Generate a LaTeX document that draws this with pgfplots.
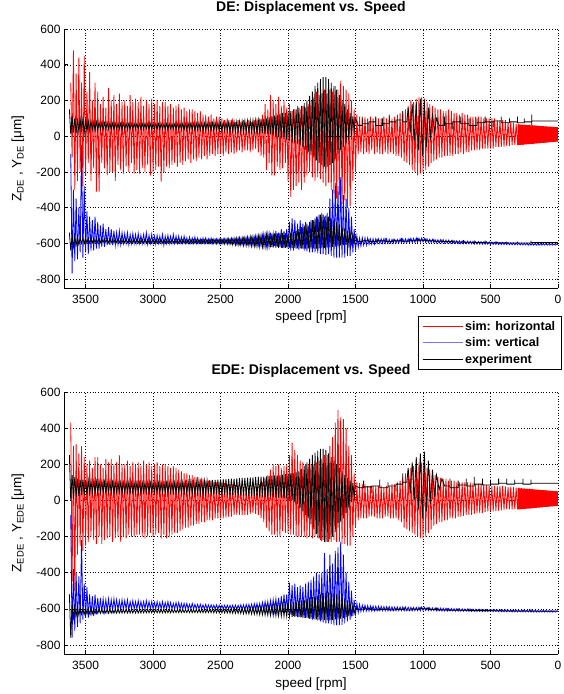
\documentclass[border=0pt]{standalone}
\usepackage{fontspec}
\setmainfont{Liberation Sans}
\usepackage{pgfplots}
\pgfplotsset{compat=1.18}

\pgfplotsset{
  mlab/.style={
    scale only axis, width=494pt,
    x dir=reverse, xmin=0, xmax=3660, ymin=-850, ymax=600,
    xtick={0,500,...,3500}, ytick={-800,-600,...,600},
    grid=major, major grid style={black, line width=0.4pt, dash pattern=on 0.6pt off 2.2pt},
    axis x line*=bottom, axis y line*=left,
    axis line style={line width=0.5pt, -},
    tick align=inside, major tick length=4pt, tick style={black, line width=0.5pt},
    tick label style={font=\fontsize{12}{14}\selectfont},
    /pgf/number format/assume math mode=true,
    /pgf/number format/1000 sep={},
    xticklabel style={yshift=-4pt},
    label style={font=\fontsize{13.5}{16}\selectfont},
    xlabel={speed [rpm]},
    xlabel style={at={(0.5,0)}, anchor=base, yshift=-33pt},
    ylabel style={at={(0,0.5)}, anchor=center, yshift=46pt},
    title style={at={(0.5,1)}, anchor=base, yshift=11pt, font=\bfseries\fontsize{14}{16}\selectfont},
    every axis plot/.append style={line width=0.8pt},
  }
}

\begin{document}
\begin{tikzpicture}[x=1pt,y=1pt]
\path[use as bounding box] (0,0) rectangle (564,694);

% ---------------- DE ----------------
\begin{axis}[mlab, at={(64pt,406pt)}, anchor=south west, height=259pt,
  title={DE: Displacement vs. Speed},
  ylabel={Z\textsubscript{DE} , Y\textsubscript{DE} [μm]},
  legend style={at={(0.716,-0.107)}, anchor=north west, draw=black, line width=0.5pt,
    font=\bfseries\fontsize{12.5}{15}\selectfont, inner xsep=4pt, inner ysep=3pt, row sep=2pt},
  legend cell align=left,
  legend image code/.code={\draw[#1] (0pt,0pt) -- (40pt,0pt);},
]
\addlegendimage{red, line width=0.6pt}
\addlegendimage{blue!55, line width=1.2pt}
\addlegendimage{black, line width=0.6pt}
\legend{sim: horizontal, sim: vertical, experiment}

% sim: horizontal
\addplot[red] coordinates {
(3610,300)(3600,-120)(3590,480)(3580,-300)(3570,350)(3560,-250)(3550,440)(3540,-200)(3530,300)(3520,-280)
(3510,450)(3500,-220)(3490,250)(3480,-150)(3470,360)(3460,-250)(3450,200)(3440,-180)(3430,300)(3420,-310)
(3410,250)(3400,-310)(3390,180)(3380,-150)(3370,220)(3360,-180)(3350,160)(3340,-220)(3330,270)(3320,-200)
(3310,200)(3300,-200)(3290,230)(3280,-250)(3270,180)(3260,-160)(3250,240)(3240,-190)(3230,190)(3220,-210)
(3210,200)(3200,-170)(3190,170)(3180,-200)(3170,230)(3160,-150)(3150,190)(3140,-210)(3130,210)(3120,-190)
(3110,190)(3100,-210)(3090,220)(3080,-180)(3070,170)(3060,-200)(3050,200)(3040,-160)(3030,180)(3020,-220)
(3010,210)(3000,-200)(2990,180)(2980,-190)(2970,200)(2960,-170)(2950,170)(2940,-255)(2930,190)(2920,-200)
(2910,190)(2900,-170)(2890,170)(2880,-180)(2870,180)(2860,-160)(2850,160)(2840,-150)(2830,170)(2820,-170)
(2810,180)(2800,-150)(2790,150)(2780,-160)(2770,160)(2760,-140)(2750,140)(2740,-130)(2730,150)(2720,-150)
(2710,150)(2700,-130)(2690,140)(2680,-140)(2670,130)(2660,-120)(2650,140)(2640,-130)(2630,120)(2620,-110)
(2610,120)(2600,-130)(2590,110)(2580,-110)(2570,120)(2560,-100)(2550,100)(2540,-110)(2530,110)(2520,-100)
(2510,110)(2500,-100)(2490,100)(2480,-110)(2470,90)(2460,-90)(2450,100)(2440,-100)(2430,90)(2420,-90)
(2410,100)(2400,-100)(2390,80)(2380,-90)(2370,90)(2360,-80)(2350,80)(2340,-90)(2330,90)(2320,-80)
(2310,80)(2300,-80)(2290,90)(2280,-90)(2270,80)(2260,-80)(2250,90)(2240,-70)(2230,100)(2220,-90)
(2210,100)(2200,-110)(2190,120)(2180,-120)(2170,180)(2160,-190)(2150,150)(2140,-150)(2130,230)(2120,-220)
(2110,200)(2100,-220)(2090,180)(2080,-170)(2070,220)(2060,-190)(2050,170)(2040,-180)(2030,200)(2020,-150)
(2010,160)(2000,-250)(1990,180)(1980,-340)(1970,140)(1960,-300)(1950,150)(1940,-280)(1930,170)(1920,-260)
(1910,150)(1900,-300)(1890,170)(1880,-260)(1870,160)(1860,-220)(1850,180)(1840,-200)(1830,200)(1820,-230)
(1810,220)(1800,-250)(1790,250)(1780,-230)(1770,230)(1760,-240)(1750,240)(1740,-260)(1730,260)(1720,-280)
(1710,240)(1700,-260)(1690,260)(1680,-300)(1670,250)(1660,-320)(1650,280)(1640,-350)(1630,260)(1620,-330)
(1610,310)(1600,-380)(1590,280)(1580,-360)(1570,260)(1560,-400)(1550,240)(1540,-390)(1530,200)(1520,-250)
(1510,150)(1500,-200)(1490,120)(1480,-100)(1470,110)(1460,-90)(1450,100)(1440,-100)(1430,110)(1420,-90)
(1410,100)(1400,-100)(1390,110)(1380,-80)(1370,100)(1360,-100)(1350,110)(1340,-90)(1330,100)(1320,-100)
(1310,100)(1300,-100)(1290,110)(1280,-90)(1270,100)(1260,-100)(1250,110)(1240,-90)(1230,100)(1220,-100)
(1210,110)(1200,-110)(1190,120)(1180,-110)(1170,130)(1160,-120)(1150,140)(1140,-140)(1130,150)(1120,-150)
(1110,170)(1100,-160)(1090,200)(1080,-190)(1070,190)(1060,-200)(1050,210)(1040,-220)(1030,220)(1020,-210)
(1010,220)(1000,-200)(990,210)(980,-190)(970,190)(960,-170)(950,180)(940,-150)(930,170)(920,-140)
(910,160)(900,-130)(890,150)(880,-120)(870,150)(860,-120)(850,140)(840,-110)(830,140)(820,-110)
(810,150)(800,-110)(790,140)(780,-110)(770,130)(760,-100)(750,130)(740,-100)(730,120)(720,-90)
(710,130)(700,-100)(690,120)(680,-90)(670,120)(660,-90)(650,110)(640,-80)(630,110)(620,-80)
(610,110)(600,-80)(590,110)(580,-80)(570,110)(560,-70)(550,100)(540,-70)(530,100)(520,-70)
(510,100)(500,-70)(490,100)(480,-70)(470,100)(460,-60)(450,90)(440,-60)(430,90)(420,-60)
(410,90)(400,-60)(390,90)(380,-55)(370,80)(360,-55)(350,80)(340,-50)(330,75)(320,-50)
(310,70)(300,-50)(290,70)(280,-50)(270,65)(260,-50)(250,65)(240,-45)(230,60)(220,-45)
(210,65)(200,-45)(190,60)(180,-45)(170,60)(160,-40)(150,58)(140,-40)(130,55)(120,-38)
(110,55)(100,-35)(90,55)(80,-35)(70,52)(60,-33)(50,52)(40,-33)(30,50)(20,-32)
(10,50)(0,-30)};
\addplot[red, fill=red, draw=none] coordinates {(300,66)(0,50)(0,-30)(300,-50)(300,66)};

% sim: vertical
\addplot[blue] coordinates {
(3610,-100)(3600,-770)(3590,-300)(3580,-700)(3570,-350)(3560,-690)(3550,-400)(3540,-650)(3530,-50)(3520,-680)
(3510,-280)(3500,-650)(3490,-420)(3480,-660)(3470,-450)(3460,-640)(3450,-470)(3440,-640)(3430,-450)(3420,-630)
(3410,-480)(3400,-630)(3390,-500)(3380,-620)(3370,-490)(3360,-620)(3350,-520)(3340,-610)(3330,-510)(3320,-610)
(3310,-520)(3300,-610)(3290,-530)(3280,-610)(3270,-540)(3260,-605)(3250,-530)(3240,-605)(3230,-540)(3220,-600)
(3210,-545)(3200,-600)(3190,-540)(3180,-605)(3170,-550)(3160,-600)(3150,-545)(3140,-600)(3130,-550)(3120,-600)
(3110,-545)(3100,-600)(3090,-555)(3080,-600)(3070,-550)(3060,-600)(3050,-540)(3040,-605)(3030,-555)(3020,-600)
(3010,-550)(3000,-600)(2990,-560)(2980,-605)(2970,-555)(2960,-600)(2950,-560)(2940,-600)(2930,-550)(2920,-610)
(2910,-560)(2900,-600)(2890,-555)(2880,-600)(2870,-560)(2860,-600)(2850,-550)(2840,-600)(2830,-560)(2820,-600)
(2810,-560)(2800,-600)(2790,-565)(2780,-600)(2770,-560)(2760,-600)(2750,-570)(2740,-600)(2730,-565)(2720,-600)
(2710,-570)(2700,-600)(2690,-565)(2680,-600)(2670,-570)(2660,-600)(2650,-575)(2640,-600)(2630,-570)(2620,-600)
(2610,-570)(2600,-600)(2590,-575)(2580,-600)(2570,-570)(2560,-600)(2550,-575)(2540,-600)(2530,-575)(2520,-600)
(2510,-575)(2500,-600)(2490,-575)(2480,-600)(2470,-575)(2460,-600)(2450,-575)(2440,-600)(2430,-575)(2420,-600)
(2410,-575)(2400,-600)(2390,-575)(2380,-605)(2370,-570)(2360,-605)(2350,-575)(2340,-605)(2330,-570)(2320,-605)
(2310,-570)(2300,-605)(2290,-570)(2280,-605)(2270,-565)(2260,-610)(2250,-565)(2240,-610)(2230,-560)(2220,-610)
(2210,-560)(2200,-610)(2190,-555)(2180,-615)(2170,-550)(2160,-615)(2150,-545)(2140,-615)(2130,-540)(2120,-620)
(2110,-545)(2100,-615)(2090,-530)(2080,-620)(2070,-540)(2060,-620)(2050,-520)(2040,-625)(2030,-530)(2020,-625)
(2010,-520)(2000,-630)(1990,-480)(1980,-640)(1970,-460)(1960,-640)(1950,-470)(1940,-630)(1930,-490)(1920,-635)
(1910,-470)(1900,-630)(1890,-490)(1880,-640)(1870,-480)(1860,-645)(1850,-500)(1840,-650)(1830,-470)(1820,-650)
(1810,-470)(1800,-650)(1790,-450)(1780,-655)(1770,-440)(1760,-660)(1750,-430)(1740,-660)(1730,-450)(1720,-665)
(1710,-430)(1700,-660)(1690,-350)(1680,-670)(1670,-300)(1660,-680)(1650,-260)(1640,-680)(1630,-280)(1620,-680)
(1610,-230)(1600,-680)(1590,-330)(1580,-680)(1570,-350)(1560,-670)(1550,-400)(1540,-670)(1530,-450)(1520,-650)
(1510,-520)(1500,-640)(1490,-560)(1480,-620)(1470,-570)(1460,-615)(1450,-570)(1440,-610)(1430,-570)(1420,-610)
(1410,-570)(1400,-605)(1390,-575)(1380,-605)(1370,-575)(1360,-605)(1350,-575)(1340,-600)(1330,-575)(1320,-600)
(1310,-575)(1300,-600)(1290,-575)(1280,-600)(1270,-575)(1260,-600)(1250,-578)(1240,-600)(1230,-578)(1220,-598)
(1210,-578)(1200,-598)(1190,-578)(1180,-598)(1170,-575)(1160,-598)(1150,-575)(1140,-596)(1130,-575)(1120,-596)
(1110,-575)(1100,-595)(1090,-572)(1080,-595)(1070,-572)(1060,-594)(1050,-570)(1040,-594)(1030,-572)(1020,-592)
(1010,-570)(1000,-592)(990,-573)(980,-594)(970,-575)(960,-595)(950,-577)(940,-595)(930,-578)(920,-596)
(910,-580)(900,-597)(890,-580)(880,-598)(870,-580)(860,-598)(850,-581)(840,-599)(830,-582)(820,-599)
(810,-582)(800,-600)(790,-584)(780,-600)(770,-585)(760,-600)(750,-586)(740,-601)(730,-586)(720,-602)
(710,-587)(700,-602)(690,-588)(680,-602)(670,-588)(660,-603)(650,-589)(640,-603)(630,-590)(620,-604)
(610,-590)(600,-604)(590,-590)(580,-604)(570,-591)(560,-605)(550,-592)(540,-605)(530,-592)(520,-605)
(510,-592)(500,-606)(490,-593)(480,-606)(470,-594)(460,-606)(450,-594)(440,-607)(430,-595)(420,-607)
(410,-595)(400,-607)(390,-596)(380,-607)(370,-596)(360,-608)(350,-597)(340,-608)(330,-597)(320,-608)
(310,-598)(300,-608)(290,-598)(280,-609)(270,-599)(260,-609)(250,-599)(240,-609)(230,-600)(220,-610)
(210,-600)(200,-610)(190,-600)(180,-610)(170,-601)(160,-610)(150,-601)(140,-610)(130,-602)(120,-610)
(110,-602)(100,-610)(90,-602)(80,-610)(70,-603)(60,-610)(50,-603)(40,-610)(30,-604)(20,-610)
(10,-604)(0,-606)};

% experiment, horizontal
\addplot[black] coordinates {
(3620,150)(3610,10)(3600,110)(3590,20)(3580,100)(3570,20)(3560,100)(3550,25)(3540,95)(3530,30)
(3520,95)(3510,20)(3500,90)(3490,30)(3480,85)(3470,30)(3460,85)(3450,35)(3440,80)(3430,35)
(3420,80)(3410,35)(3400,78)(3390,38)(3380,76)(3370,38)(3360,75)(3350,40)(3340,75)(3330,40)
(3320,74)(3310,40)(3300,73)(3290,40)(3280,72)(3270,40)(3260,72)(3250,40)(3240,72)(3230,40)
(3220,72)(3210,40)(3200,71)(3190,40)(3180,71)(3170,41)(3160,70)(3150,41)(3140,70)(3130,42)
(3120,70)(3110,42)(3100,70)(3090,42)(3080,70)(3070,42)(3060,70)(3050,42)(3040,70)(3030,42)
(3020,70)(3010,40)(3000,70)(2990,40)(2980,70)(2970,40)(2960,70)(2950,40)(2940,70)(2930,40)
(2920,70)(2910,40)(2900,70)(2890,40)(2880,70)(2870,41)(2860,69)(2850,42)(2840,68)(2830,42)
(2820,70)(2810,40)(2800,70)(2790,40)(2780,71)(2770,39)(2760,71)(2750,38)(2740,72)(2730,38)
(2720,72)(2710,38)(2700,72)(2690,37)(2680,73)(2670,37)(2660,73)(2650,36)(2640,74)(2630,36)
(2620,74)(2610,36)(2600,75)(2590,35)(2580,75)(2570,35)(2560,76)(2550,34)(2540,76)(2530,34)
(2520,76)(2510,34)(2500,77)(2490,33)(2480,77)(2470,32)(2460,78)(2450,31)(2440,78)(2430,30)
(2420,80)(2410,30)(2400,81)(2390,29)(2380,82)(2370,28)(2360,83)(2350,27)(2340,84)(2330,26)
(2320,86)(2310,26)(2300,87)(2290,25)(2280,88)(2270,24)(2260,89)(2250,23)(2240,90)(2230,22)
(2220,90)(2210,20)(2200,95)(2190,18)(2180,98)(2170,15)(2160,100)(2150,12)(2140,105)(2130,10)
(2120,110)(2110,5)(2100,115)(2090,0)(2080,120)(2070,-5)(2060,125)(2050,-10)(2040,130)(2030,-15)
(2020,130)(2010,-20)(2000,135)(1990,-25)(1980,140)(1970,-30)(1960,150)(1950,-35)(1940,150)(1930,-40)
(1920,160)(1910,-50)(1900,170)(1890,-60)(1880,185)(1870,-75)(1860,200)(1850,-90)(1840,225)(1830,-105)
(1820,250)(1810,-120)(1800,280)(1790,-135)(1780,300)(1770,-150)(1760,320)(1750,-160)(1740,330)(1730,-170)
(1720,330)(1710,-170)(1700,320)(1690,-160)(1680,300)(1670,-150)(1660,280)(1650,-130)(1640,260)(1630,-100)
(1620,230)(1610,-80)(1600,200)(1590,-60)(1580,180)(1570,-40)(1560,150)(1550,-20)(1540,130)(1530,0)
(1520,110)(1510,30)(1500,100)
(1480,60)(1450,60)(1450,110)(1450,70)(1400,70)(1400,30)(1400,80)(1350,80)(1350,110)(1350,60)
(1300,60)(1300,100)(1300,70)(1250,70)(1250,120)(1250,80)(1200,80)(1200,40)(1200,90)(1150,90)
(1150,140)(1150,80)(1120,80)(1110,160)(1095,20)(1080,180)(1065,-30)(1050,190)(1035,-80)(1020,210)
(1005,-110)(990,200)(975,-60)(960,160)(945,-20)(930,130)(915,20)(900,100)(880,60)(840,60)
(840,110)(840,70)(780,70)(780,40)(780,80)(720,80)(720,110)(720,70)(660,70)(660,100)
(660,60)(600,60)(600,100)(600,75)(540,75)(540,110)(540,80)(480,80)(480,50)(480,85)
(420,85)(420,110)(420,75)(360,75)(360,100)(360,80)(300,80)(300,110)(300,75)(250,75)
(250,100)(250,80)(195,80)(195,120)(195,60)(195,85)(0,85)};

% experiment, vertical
\addplot[black] coordinates {
(3620,-540)(3610,-640)(3600,-560)(3590,-620)(3580,-565)(3570,-610)(3560,-568)(3550,-605)(3540,-570)(3530,-600)
(3520,-570)(3510,-600)(3500,-572)(3490,-598)(3480,-572)(3470,-598)(3460,-573)(3450,-597)(3440,-574)(3430,-596)
(3420,-574)(3410,-596)(3400,-575)(3390,-596)(3380,-575)(3370,-595)(3360,-575)(3350,-595)(3340,-576)(3330,-596)
(3320,-576)(3310,-596)(3300,-576)(3290,-596)(3280,-576)(3270,-596)(3260,-577)(3250,-596)(3240,-577)(3230,-597)
(3220,-577)(3210,-597)(3200,-577)(3190,-597)(3180,-578)(3170,-597)(3160,-578)(3150,-597)(3140,-578)(3130,-598)
(3120,-578)(3110,-598)(3100,-578)(3090,-598)(3080,-578)(3070,-598)(3060,-578)(3050,-598)(3040,-579)(3030,-598)
(3020,-579)(3010,-598)(3000,-579)(2990,-598)(2980,-579)(2970,-598)(2960,-579)(2950,-598)(2940,-580)(2930,-598)
(2920,-580)(2910,-598)(2900,-580)(2890,-598)(2880,-580)(2870,-598)(2860,-580)(2850,-598)(2840,-580)(2830,-599)
(2820,-580)(2810,-599)(2800,-580)(2790,-599)(2780,-580)(2770,-599)(2760,-580)(2750,-600)(2740,-580)(2730,-600)
(2720,-580)(2710,-600)(2700,-580)(2690,-600)(2680,-580)(2670,-600)(2660,-580)(2650,-600)(2640,-580)(2630,-600)
(2620,-580)(2610,-600)(2600,-580)(2590,-600)(2580,-579)(2570,-601)(2560,-579)(2550,-601)(2540,-578)(2530,-602)
(2520,-578)(2510,-602)(2500,-577)(2490,-603)(2480,-576)(2470,-604)(2460,-575)(2450,-605)(2440,-574)(2430,-606)
(2420,-572)(2410,-608)(2400,-571)(2390,-609)(2380,-570)(2370,-610)(2360,-569)(2350,-611)(2340,-568)(2330,-612)
(2320,-566)(2310,-613)(2300,-565)(2290,-614)(2280,-563)(2270,-615)(2260,-562)(2250,-616)(2240,-560)(2230,-618)
(2220,-558)(2210,-619)(2200,-555)(2190,-620)(2180,-552)(2170,-621)(2160,-550)(2150,-622)(2140,-548)(2130,-623)
(2120,-546)(2110,-624)(2100,-545)(2090,-624)(2080,-544)(2070,-625)(2060,-543)(2050,-625)(2040,-542)(2030,-626)
(2020,-545)(2010,-622)(2000,-545)(1990,-624)(1980,-540)(1970,-625)(1960,-535)(1950,-626)(1940,-530)(1930,-628)
(1920,-520)(1910,-628)(1900,-510)(1890,-630)(1880,-500)(1870,-630)(1860,-490)(1850,-630)(1840,-480)(1830,-630)
(1820,-470)(1810,-630)(1800,-460)(1790,-630)(1780,-450)(1770,-628)(1760,-440)(1750,-626)(1740,-440)(1730,-625)
(1720,-445)(1710,-624)(1700,-450)(1690,-622)(1680,-460)(1670,-620)(1660,-470)(1650,-618)(1640,-480)(1630,-615)
(1620,-500)(1610,-612)(1600,-510)(1590,-610)(1580,-520)(1570,-608)(1560,-530)(1550,-605)(1540,-540)(1530,-602)
(1520,-550)(1510,-600)(1500,-560)
(1480,-590)(1450,-590)(1450,-570)(1450,-585)(1400,-585)(1400,-575)(1400,-590)(1340,-590)(1340,-575)(1340,-585)
(1280,-585)(1280,-570)(1280,-590)(1220,-590)(1220,-575)(1220,-585)(1160,-585)(1160,-570)(1160,-588)(1100,-588)
(1100,-575)(1100,-585)(1040,-585)(1040,-570)(1040,-582)(980,-582)(980,-572)(980,-585)(920,-585)(920,-575)
(920,-588)(860,-588)(860,-578)(860,-590)(780,-590)(780,-580)(780,-592)(700,-592)(700,-582)(700,-594)
(620,-594)(620,-584)(620,-595)(540,-595)(540,-585)(540,-597)(460,-597)(460,-588)(460,-597)(380,-597)
(380,-590)(380,-598)(300,-598)(300,-590)(300,-598)(200,-598)(200,-585)(200,-596)(0,-596)};
\end{axis}

% ---------------- EDE ----------------
\begin{axis}[mlab, at={(64pt,40pt)}, anchor=south west, height=262pt,
  title={EDE: Displacement vs. Speed},
  ylabel={Z\textsubscript{EDE} , Y\textsubscript{EDE} [μm]},
]
\addplot[red] coordinates {
(3610,430)(3600,-450)(3590,300)(3580,-500)(3570,310)(3560,-300)(3550,260)(3540,-250)(3530,300)(3520,-280)
(3510,240)(3500,-250)(3490,200)(3480,-230)(3470,220)(3460,-200)(3450,180)(3440,-220)(3430,240)(3420,-240)
(3410,240)(3400,-200)(3390,200)(3380,-240)(3370,180)(3360,-220)(3350,230)(3340,-210)(3330,210)(3320,-200)
(3310,230)(3300,-230)(3290,200)(3280,-210)(3270,210)(3260,-200)(3250,250)(3240,-230)(3230,200)(3220,-200)
(3210,200)(3200,-210)(3190,220)(3180,-190)(3170,190)(3160,-200)(3150,210)(3140,-200)(3130,200)(3120,-190)
(3110,210)(3100,-190)(3090,190)(3080,-200)(3070,220)(3060,-210)(3050,200)(3040,-200)(3030,210)(3020,-180)
(3010,190)(3000,-200)(2990,200)(2980,-190)(2970,210)(2960,-180)(2950,190)(2940,-210)(2930,200)(2920,-190)
(2910,200)(2900,-210)(2890,190)(2880,-200)(2870,180)(2860,-190)(2850,190)(2840,-180)(2830,180)(2820,-180)
(2810,170)(2800,-170)(2790,160)(2780,-160)(2770,150)(2760,-150)(2750,150)(2740,-150)(2730,140)(2720,-140)
(2710,140)(2700,-140)(2690,130)(2680,-130)(2670,130)(2660,-130)(2650,120)(2640,-120)(2630,120)(2620,-120)
(2610,110)(2600,-110)(2590,110)(2580,-110)(2570,110)(2560,-110)(2550,100)(2540,-100)(2530,100)(2520,-100)
(2510,100)(2500,-100)(2490,100)(2480,-100)(2470,95)(2460,-95)(2450,90)(2440,-90)(2430,90)(2420,-90)
(2410,90)(2400,-80)(2390,85)(2380,-80)(2370,80)(2360,-80)(2350,80)(2340,-80)(2330,75)(2320,-80)
(2310,70)(2300,-80)(2290,70)(2280,-75)(2270,70)(2260,-70)(2250,75)(2240,-75)(2230,80)(2220,-80)
(2210,90)(2200,-100)(2190,100)(2180,-120)(2170,120)(2160,-150)(2150,140)(2140,-170)(2130,170)(2120,-190)
(2110,200)(2100,-190)(2090,190)(2080,-200)(2070,200)(2060,-200)(2050,180)(2040,-170)(2030,190)(2020,-180)
(2010,200)(2000,-180)(1990,250)(1980,-190)(1970,320)(1960,-190)(1950,280)(1940,-200)(1930,250)(1920,-200)
(1910,220)(1900,-200)(1890,210)(1880,-200)(1870,200)(1860,-210)(1850,200)(1840,-200)(1830,200)(1820,-210)
(1810,200)(1800,-200)(1790,210)(1780,-210)(1770,220)(1760,-220)(1750,230)(1740,-220)(1730,250)(1720,-230)
(1710,250)(1700,-230)(1690,300)(1680,-230)(1670,350)(1660,-220)(1650,430)(1640,-230)(1630,500)(1620,-230)
(1610,460)(1600,-240)(1590,450)(1580,-240)(1570,400)(1560,-250)(1550,300)(1540,-250)(1530,250)(1520,-200)
(1510,150)(1500,-150)(1490,100)(1480,-110)(1470,95)(1460,-100)(1450,90)(1440,-100)(1430,90)(1420,-100)
(1410,80)(1400,-90)(1390,80)(1380,-90)(1370,80)(1360,-90)(1350,80)(1340,-100)(1330,80)(1320,-100)
(1310,80)(1300,-100)(1290,70)(1280,-90)(1270,80)(1260,-90)(1250,80)(1240,-100)(1230,90)(1220,-100)
(1210,90)(1200,-100)(1190,100)(1180,-110)(1170,110)(1160,-120)(1150,130)(1140,-150)(1130,150)(1120,-160)
(1110,170)(1100,-170)(1090,180)(1080,-180)(1070,190)(1060,-190)(1050,200)(1040,-200)(1030,210)(1020,-210)
(1010,210)(1000,-210)(990,200)(980,-200)(970,180)(960,-180)(950,170)(940,-160)(930,150)(920,-140)
(910,140)(900,-130)(890,130)(880,-120)(870,125)(860,-120)(850,120)(840,-110)(830,120)(820,-110)
(810,110)(800,-100)(790,110)(780,-100)(770,110)(760,-100)(750,100)(740,-90)(730,100)(720,-90)
(710,100)(700,-85)(690,100)(680,-80)(670,100)(660,-80)(650,100)(640,-80)(630,95)(620,-75)
(610,90)(600,-70)(590,90)(580,-70)(570,90)(560,-70)(550,90)(540,-65)(530,85)(520,-60)
(510,80)(500,-60)(490,80)(480,-60)(470,80)(460,-58)(450,80)(440,-56)(430,80)(420,-55)
(410,80)(400,-52)(390,78)(380,-50)(370,75)(360,-50)(350,75)(340,-50)(330,75)(320,-50)
(310,70)(300,-50)(290,70)(280,-50)(270,68)(260,-48)(250,66)(240,-46)(230,65)(220,-45)
(210,65)(200,-45)(190,62)(180,-42)(170,60)(160,-40)(150,58)(140,-40)(130,56)(120,-38)
(110,55)(100,-35)(90,55)(80,-35)(70,52)(60,-32)(50,52)(40,-32)(30,50)(20,-30)
(10,50)(0,-30)};
\addplot[red, fill=red, draw=none] coordinates {(300,68)(0,50)(0,-30)(300,-50)(300,68)};

\addplot[blue] coordinates {
(3610,-80)(3600,-760)(3590,-380)(3580,-720)(3570,-400)(3560,-700)(3550,-420)(3540,-680)(3530,-220)(3520,-660)
(3510,-460)(3500,-650)(3490,-480)(3480,-650)(3470,-520)(3460,-640)(3450,-530)(3440,-640)(3430,-520)(3420,-630)
(3410,-540)(3400,-620)(3390,-540)(3380,-620)(3370,-545)(3360,-615)(3350,-550)(3340,-610)(3330,-545)(3320,-610)
(3310,-550)(3300,-610)(3290,-545)(3280,-605)(3270,-550)(3260,-605)(3250,-555)(3240,-605)(3230,-550)(3220,-605)
(3210,-555)(3200,-600)(3190,-550)(3180,-605)(3170,-560)(3160,-600)(3150,-555)(3140,-600)(3130,-560)(3120,-600)
(3110,-555)(3100,-600)(3090,-560)(3080,-600)(3070,-560)(3060,-600)(3050,-555)(3040,-600)(3030,-560)(3020,-600)
(3010,-560)(3000,-600)(2990,-565)(2980,-600)(2970,-560)(2960,-600)(2950,-565)(2940,-600)(2930,-560)(2920,-600)
(2910,-565)(2900,-600)(2890,-560)(2880,-600)(2870,-565)(2860,-600)(2850,-570)(2840,-600)(2830,-565)(2820,-600)
(2810,-565)(2800,-600)(2790,-570)(2780,-600)(2770,-570)(2760,-600)(2750,-570)(2740,-600)(2730,-575)(2720,-600)
(2710,-570)(2700,-600)(2690,-575)(2680,-600)(2670,-575)(2660,-600)(2650,-575)(2640,-600)(2630,-578)(2620,-600)
(2610,-575)(2600,-600)(2590,-578)(2580,-600)(2570,-578)(2560,-600)(2550,-580)(2540,-600)(2530,-578)(2520,-600)
(2510,-580)(2500,-600)(2490,-580)(2480,-600)(2470,-580)(2460,-600)(2450,-580)(2440,-600)(2430,-580)(2420,-602)
(2410,-580)(2400,-602)(2390,-580)(2380,-602)(2370,-580)(2360,-602)(2350,-578)(2340,-604)(2330,-578)(2320,-604)
(2310,-576)(2300,-605)(2290,-575)(2280,-605)(2270,-574)(2260,-606)(2250,-572)(2240,-607)(2230,-570)(2220,-608)
(2210,-570)(2200,-608)(2190,-565)(2180,-610)(2170,-560)(2160,-610)(2150,-560)(2140,-612)(2130,-555)(2120,-612)
(2110,-550)(2100,-614)(2090,-545)(2080,-615)(2070,-540)(2060,-616)(2050,-530)(2040,-618)(2030,-520)(2020,-620)
(2010,-520)(2000,-620)(1990,-455)(1980,-630)(1970,-470)(1960,-640)(1950,-460)(1940,-640)(1930,-480)(1920,-645)
(1910,-470)(1900,-645)(1890,-480)(1880,-650)(1870,-460)(1860,-650)(1850,-450)(1840,-655)(1830,-440)(1820,-660)
(1810,-420)(1800,-660)(1790,-400)(1780,-665)(1770,-410)(1760,-670)(1750,-400)(1740,-675)(1730,-290)(1720,-680)
(1710,-380)(1700,-680)(1690,-300)(1680,-685)(1670,-350)(1660,-690)(1650,-280)(1640,-690)(1630,-260)(1620,-690)
(1610,-230)(1600,-690)(1590,-300)(1580,-680)(1570,-400)(1560,-670)(1550,-450)(1540,-660)(1530,-500)(1520,-640)
(1510,-550)(1500,-630)(1490,-570)(1480,-620)(1470,-575)(1460,-615)(1450,-580)(1440,-612)(1430,-580)(1420,-612)
(1410,-582)(1400,-612)(1390,-584)(1380,-612)(1370,-585)(1360,-611)(1350,-585)(1340,-610)(1330,-586)(1320,-610)
(1310,-587)(1300,-610)(1290,-588)(1280,-610)(1270,-588)(1260,-610)(1250,-588)(1240,-610)(1230,-589)(1220,-610)
(1210,-590)(1200,-610)(1190,-590)(1180,-610)(1170,-590)(1160,-610)(1150,-590)(1140,-610)(1130,-590)(1120,-610)
(1110,-591)(1100,-610)(1090,-592)(1080,-610)(1070,-592)(1060,-610)(1050,-592)(1040,-610)(1030,-591)(1020,-610)
(1010,-590)(1000,-608)(990,-592)(980,-609)(970,-593)(960,-610)(950,-594)(940,-610)(930,-595)(920,-610)
(910,-595)(900,-611)(890,-596)(880,-611)(870,-596)(860,-612)(850,-597)(840,-612)(830,-597)(820,-612)
(810,-598)(800,-612)(790,-598)(780,-612)(770,-599)(760,-613)(750,-600)(740,-613)(730,-600)(720,-613)
(710,-600)(700,-613)(690,-601)(680,-613)(670,-601)(660,-614)(650,-602)(640,-614)(630,-602)(620,-614)
(610,-603)(600,-614)(590,-603)(580,-614)(570,-604)(560,-615)(550,-604)(540,-615)(530,-605)(520,-615)
(510,-605)(500,-615)(490,-605)(480,-615)(470,-605)(460,-615)(450,-606)(440,-616)(430,-606)(420,-616)
(410,-606)(400,-616)(390,-606)(380,-616)(370,-607)(360,-616)(350,-607)(340,-617)(330,-607)(320,-617)
(310,-607)(300,-617)(290,-608)(280,-617)(270,-608)(260,-617)(250,-608)(240,-617)(230,-608)(220,-617)
(210,-609)(200,-618)(190,-609)(180,-618)(170,-609)(160,-618)(150,-610)(140,-618)(130,-610)(120,-618)
(110,-610)(100,-618)(90,-610)(80,-618)(70,-611)(60,-618)(50,-611)(40,-618)(30,-612)(20,-618)
(10,-612)(0,-614)};

\addplot[black] coordinates {
(3620,250)(3610,0)(3600,140)(3590,10)(3580,130)(3570,20)(3560,120)(3550,25)(3540,115)(3530,30)
(3520,115)(3510,30)(3500,110)(3490,35)(3480,110)(3470,40)(3460,108)(3450,42)(3440,106)(3430,44)
(3420,105)(3410,45)(3400,105)(3390,45)(3380,104)(3370,45)(3360,104)(3350,45)(3340,103)(3330,45)
(3320,102)(3310,45)(3300,102)(3290,45)(3280,101)(3270,45)(3260,101)(3250,45)(3240,100)(3230,45)
(3220,100)(3210,45)(3200,100)(3190,45)(3180,99)(3170,46)(3160,99)(3150,46)(3140,98)(3130,46)
(3120,98)(3110,46)(3100,98)(3090,46)(3080,98)(3070,46)(3060,98)(3050,46)(3040,98)(3030,46)
(3020,98)(3010,46)(3000,98)(2990,46)(2980,98)(2970,46)(2960,98)(2950,46)(2940,98)(2930,46)
(2920,98)(2910,46)(2900,98)(2890,46)(2880,99)(2870,46)(2860,99)(2850,45)(2840,100)(2830,45)
(2820,100)(2810,45)(2800,101)(2790,44)(2780,102)(2770,44)(2760,103)(2750,43)(2740,104)(2730,42)
(2720,105)(2710,41)(2700,106)(2690,40)(2680,107)(2670,40)(2660,108)(2650,39)(2640,109)(2630,38)
(2620,110)(2610,38)(2600,111)(2590,37)(2580,112)(2570,36)(2560,113)(2550,35)(2540,114)(2530,34)
(2520,115)(2510,33)(2500,116)(2490,32)(2480,117)(2470,31)(2460,118)(2450,30)(2440,119)(2430,30)
(2420,120)(2410,30)(2400,121)(2390,29)(2380,122)(2370,28)(2360,123)(2350,27)(2340,124)(2330,26)
(2320,125)(2310,26)(2300,126)(2290,25)(2280,127)(2270,24)(2260,128)(2250,24)(2240,129)(2230,23)
(2220,130)(2210,22)(2200,131)(2190,21)(2180,132)(2170,20)(2160,133)(2150,19)(2140,135)(2130,18)
(2120,136)(2110,17)(2100,138)(2090,16)(2080,139)(2070,15)(2060,140)(2050,14)(2040,142)(2030,12)
(2020,145)(2010,10)(2000,148)(1990,5)(1980,150)(1970,0)(1960,150)(1950,-10)(1940,155)(1930,-20)
(1920,160)(1910,-40)(1900,175)(1890,-60)(1880,190)(1870,-80)(1860,210)(1850,-100)(1840,230)(1830,-130)
(1820,250)(1810,-160)(1800,265)(1790,-185)(1780,275)(1770,-210)(1760,285)(1750,-225)(1740,285)(1730,-230)
(1720,280)(1710,-230)(1700,260)(1690,-215)(1680,240)(1670,-200)(1660,220)(1650,-175)(1640,200)(1630,-150)
(1620,180)(1610,-120)(1600,160)(1590,-100)(1580,140)(1570,-70)(1560,125)(1550,-40)(1540,110)(1530,-10)
(1520,95)(1510,20)(1500,80)
(1470,70)(1440,70)(1440,110)(1440,75)(1380,75)(1380,40)(1380,80)(1320,80)(1320,115)(1320,70)
(1260,70)(1260,100)(1260,80)(1200,80)(1200,50)(1200,90)(1150,90)(1150,150)(1150,100)(1120,100)
(1110,180)(1095,40)(1080,210)(1065,0)(1050,240)(1035,-50)(1020,260)(1005,-100)(990,270)(975,-60)
(960,220)(945,-20)(930,170)(915,20)(900,140)(880,60)(860,120)(840,80)(800,80)(800,120)
(800,70)(740,70)(740,110)(740,85)(680,85)(680,120)(680,80)(620,80)(620,130)(620,90)
(560,90)(560,120)(560,85)(500,85)(500,115)(500,90)(440,90)(440,120)(440,95)(380,95)
(380,120)(380,90)(320,90)(320,115)(320,95)(260,95)(260,120)(260,90)(200,90)(200,115)
(200,95)(0,95)};

\addplot[black] coordinates {
(3620,-520)(3610,-760)(3600,-580)(3590,-650)(3580,-590)(3570,-640)(3560,-595)(3550,-635)(3540,-598)(3530,-630)
(3520,-600)(3510,-630)(3500,-600)(3490,-628)(3480,-601)(3470,-627)(3460,-601)(3450,-626)(3440,-602)(3430,-626)
(3420,-602)(3410,-625)(3400,-602)(3390,-625)(3380,-603)(3370,-625)(3360,-603)(3350,-624)(3340,-603)(3330,-624)
(3320,-603)(3310,-624)(3300,-603)(3290,-624)(3280,-603)(3270,-624)(3260,-603)(3250,-623)(3240,-603)(3230,-623)
(3220,-603)(3210,-623)(3200,-603)(3190,-623)(3180,-603)(3170,-623)(3160,-603)(3150,-623)(3140,-604)(3130,-623)
(3120,-604)(3110,-623)(3100,-604)(3090,-623)(3080,-604)(3070,-622)(3060,-604)(3050,-622)(3040,-604)(3030,-622)
(3020,-604)(3010,-622)(3000,-604)(2990,-622)(2980,-604)(2970,-622)(2960,-604)(2950,-622)(2940,-604)(2930,-622)
(2920,-604)(2910,-622)(2900,-604)(2890,-622)(2880,-604)(2870,-622)(2860,-604)(2850,-621)(2840,-604)(2830,-621)
(2820,-604)(2810,-621)(2800,-604)(2790,-621)(2780,-604)(2770,-621)(2760,-604)(2750,-621)(2740,-604)(2730,-621)
(2720,-604)(2710,-621)(2700,-604)(2690,-621)(2680,-604)(2670,-621)(2660,-604)(2650,-621)(2640,-604)(2630,-621)
(2620,-603)(2610,-621)(2600,-603)(2590,-621)(2580,-603)(2570,-621)(2560,-602)(2550,-622)(2540,-602)(2530,-622)
(2520,-602)(2510,-622)(2500,-602)(2490,-622)(2480,-601)(2470,-623)(2460,-601)(2450,-623)(2440,-600)(2430,-624)
(2420,-600)(2410,-624)(2400,-599)(2390,-625)(2380,-599)(2370,-625)(2360,-598)(2350,-626)(2340,-597)(2330,-627)
(2320,-597)(2310,-627)(2300,-596)(2290,-628)(2280,-595)(2270,-629)(2260,-594)(2250,-630)(2240,-593)(2230,-631)
(2220,-592)(2210,-632)(2200,-590)(2190,-633)(2180,-588)(2170,-634)(2160,-586)(2150,-635)(2140,-585)(2130,-636)
(2120,-583)(2110,-637)(2100,-581)(2090,-638)(2080,-580)(2070,-639)(2060,-578)(2050,-640)(2040,-576)(2030,-641)
(2020,-574)(2010,-642)(2000,-572)(1990,-643)(1980,-570)(1970,-644)(1960,-566)(1950,-645)(1940,-562)(1930,-646)
(1920,-558)(1910,-647)(1900,-554)(1890,-648)(1880,-550)(1870,-650)(1860,-545)(1850,-652)(1840,-540)(1830,-654)
(1820,-535)(1810,-656)(1800,-530)(1790,-658)(1780,-525)(1770,-660)(1760,-520)(1750,-662)(1740,-515)(1730,-663)
(1720,-512)(1710,-664)(1700,-510)(1690,-664)(1680,-512)(1670,-662)(1660,-515)(1650,-660)(1640,-520)(1630,-658)
(1620,-530)(1610,-655)(1600,-540)(1590,-650)(1580,-550)(1570,-645)(1560,-560)(1550,-640)(1540,-570)(1530,-632)
(1520,-580)(1510,-625)(1500,-595)
(1480,-605)(1440,-605)(1440,-590)(1440,-600)(1380,-600)(1380,-590)(1380,-606)(1320,-606)(1320,-595)(1320,-604)
(1260,-604)(1260,-592)(1260,-606)(1200,-606)(1200,-596)(1200,-604)(1140,-604)(1140,-592)(1140,-606)(1080,-606)
(1080,-596)(1080,-602)(1020,-602)(1020,-590)(1020,-600)(960,-600)(960,-592)(960,-604)(900,-604)(900,-594)
(900,-606)(820,-606)(820,-596)(820,-608)(740,-608)(740,-598)(740,-608)(660,-608)(660,-598)(660,-610)
(580,-610)(580,-600)(580,-610)(500,-610)(500,-602)(500,-611)(420,-611)(420,-602)(420,-612)(340,-612)
(340,-604)(340,-612)(260,-612)(260,-604)(260,-612)(200,-612)(200,-600)(200,-612)(0,-612)};
\end{axis}
\end{tikzpicture}
\end{document}
